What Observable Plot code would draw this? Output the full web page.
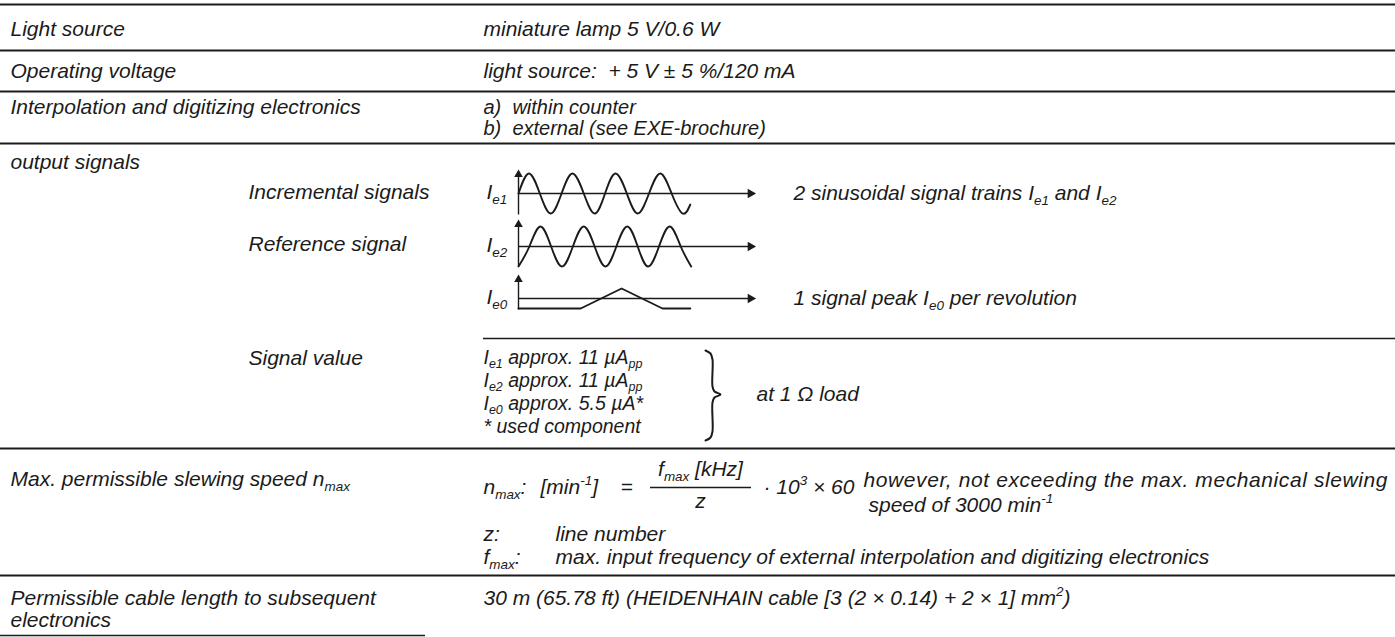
<!DOCTYPE html>
<html><head><meta charset="utf-8">
<script src="https://cdn.jsdelivr.net/npm/d3@7"></script>
<script src="https://cdn.jsdelivr.net/npm/@observablehq/plot@0.6"></script>
<style>
html,body{margin:0;padding:0;background:#fff;}
#chart{width:1395px;height:637px;overflow:hidden;}
</style></head><body><div id="chart"></div>
<script>
// ---------------- DATA (text and values) ----------------
const specNames = ["Light source", "Operating voltage", "Interpolation and digitizing electronics",
  "output signals", "Max. permissible slewing speed n_{max}", "Permissible cable length to subsequent", "electronics"];
const lampSpec = "miniature lamp 5 V/0.6 W";
const voltageSpec = "light source:  + 5 V ± 5 %/120 mA";
const electronicsOptions = ["a)  within counter", "b)  external (see EXE-brochure)"];
const signalTypes = ["Incremental signals", "Reference signal", "Signal value"];
const signalNames = ["I_{e1}", "I_{e2}", "I_{e0}"];
const signalNotes = ["2 sinusoidal signal trains I_{e1} and I_{e2}", "1 signal peak I_{e0} per revolution"];
const signalValues = ["I_{e1} approx. 11 µA_{pp}", "I_{e2} approx. 11 µA_{pp}", "I_{e0} approx. 5.5 µA*", "* used component"];
const loadNote = "at 1 Ω load";
const formulaParts = ["n_{max}:", "[min^{-1}]", "=", "f_{max} [kHz]", "z", "· 10^{3} × 60"];
const speedNote = ["however, not exceeding the max. mechanical slewing", "speed of 3000 min^{-1}"];
const legendKeys = ["z:", "f_{max}:"];
const legendTexts = ["line number", "max. input frequency of external interpolation and digitizing electronics"];
const cableSpec = "30 m (65.78 ft) (HEIDENHAIN cable [3 (2 × 0.14) + 2 × 1] mm^{2})";

// signal traces: phase (in signal periods) and level (-1 … 1)
const ie1Phase = [0, 0.24, 0.49, 0.74, 0.99, 1.24, 1.5, 1.75, 1.99, 2.23, 2.49, 2.74, 3.0, 3.26, 3.52, 3.77, 3.95];
const ie1Level = [0, 1, 0, -1, 0, 1, 0, -1, 0, 1, 0, -1, 0, 1, 0, -1, -0.55];
const ie2Phase = [0, 0.25, 0.5, 0.75, 1.0, 1.25, 1.5, 1.75, 2.0, 2.25, 2.5, 2.74, 2.98, 3.23, 3.48, 3.73, 3.97];
const ie2Level = [-1, 0, 1, 0, -1, 0, 1, 0, -1, 0, 1, 0, -1, 0, 1, 0, -1];
const ie0Phase = [0, 1.43, 2.37, 3.31, 3.95];
const ie0Level = [-1, -1, 1, -1, -1];

// ---------------- LAYOUT (pixels) ----------------
const W = 1395, H = 637;
const FS = 21, FS_SMALL = 19.5;
const col = {left: 10, sub: 248, right: 483, note: 793, legend: 555};
const fullRules = [4, 50, 91, 143, 448, 575];
const diag = {x0: 518, period: 43.5, xEnd: 754,
  rows: [{axis: 193, amp: 20, top: 171, bottom: 214},
         {axis: 246, amp: 20, top: 221, bottom: 266},
         {axis: 298, amp: 10, top: 276, bottom: 309}]};

const T = []; // text items
const add = (text, x, y, anchor = "start", size = FS, fit = null) => T.push({text, x, y, anchor, size, fit});
add(specNames[0], col.left, 29);
add(lampSpec, col.right, 29);
add(specNames[1], col.left, 71);
add(voltageSpec, col.right, 71);
add(specNames[2], col.left, 107);
electronicsOptions.forEach((s, i) => add(s, col.right, 107 + i * 21.5, "start", FS_SMALL + 0.5));
add(specNames[3], col.left, 162);
add(signalTypes[0], col.sub, 192);
add(signalTypes[1], col.sub, 244);
signalNames.forEach((s, i) => add(s, col.right + 3, diag.rows[i].axis - 1));
add(signalNotes[0], col.note, 193);
add(signalNotes[1], col.note, 298);
add(signalTypes[2], col.sub, 358);
signalValues.forEach((s, i) => add(s, col.right, 357 + i * 23, "start", FS_SMALL));
add(loadNote, 756, 394);
add(specNames[4], col.left, 479);
add(formulaParts[0], col.right, 487);
add(formulaParts[1], 540, 487);
add(formulaParts[2], 620, 487);
add(formulaParts[3], 700, 469, "middle");
add(formulaParts[4], 700, 501, "middle");
add(formulaParts[5], 763, 487);
add(speedNote[0], 863, 480, "start", FS, 524);
add(speedNote[1], 868, 505);
legendKeys.forEach((s, i) => add(s, col.right, 534 + i * 23));
legendTexts.forEach((s, i) => add(s, col.legend, 534 + i * 23));
add(specNames[5], col.left, 598);
add(specNames[6], col.left, 620);
add(cableSpec, col.right, 598);

// trace points in pixel space
const trace = (phase, level, r) => phase.map((p, i) => ({x: diag.x0 + p * diag.period, y: r.axis - level[i] * r.amp}));
const traces = [trace(ie1Phase, ie1Level, diag.rows[0]), trace(ie2Phase, ie2Level, diag.rows[1]), trace(ie0Phase, ie0Level, diag.rows[2])];

const brace = [[705,350],[710,353],[712,359],[712,386],[714,391],[720,394],[714,397],[712,402],[712,431],[710,437],[705,440]]
  .map(([x, y]) => ({x, y}));

const ink = "#1b1b1b";
const font = "Liberation Sans, Arial, Helvetica, sans-serif";
const textMark = (anchor) => Plot.text(T.filter(d => d.anchor === anchor), {x: "x", y: "y", text: "text",
  textAnchor: anchor, lineAnchor: "middle", fontSize: "size", fontStyle: "italic", fontFamily: font, fill: ink});

const plot = Plot.plot({
  width: W, height: H, margin: 0,
  x: {domain: [0, W], range: [0, W], axis: null},
  y: {domain: [0, H], range: [0, H], axis: null},
  style: {background: "#fff"},
  marks: [
    Plot.ruleY(fullRules, {x1: 0, x2: W, y: d => d, stroke: ink, strokeWidth: 2}),
    Plot.ruleY([338], {x1: col.right, x2: W, y: d => d, stroke: ink, strokeWidth: 1.6}),
    Plot.ruleY([635], {x1: 0, x2: 425, y: d => d, stroke: ink, strokeWidth: 1.6}),
    Plot.ruleY([487], {x1: 650, x2: 751, y: d => d, stroke: ink, strokeWidth: 1.3}),
    // diagram axes
    Plot.link(diag.rows, {x1: diag.x0, x2: diag.x0, y1: d => d.bottom, y2: d => d.top + 4, stroke: ink, strokeWidth: 1.4}),
    Plot.link(diag.rows, {x1: diag.x0, x2: diag.xEnd - 6, y1: d => d.axis, y2: d => d.axis, stroke: ink, strokeWidth: 1.4}),
    Plot.dot(diag.rows, {x: diag.x0, y: d => d.top + 3, symbol: "triangle", r: 3.2, fill: ink, stroke: "none"}),
    Plot.dot(diag.rows, {x: diag.xEnd - 4, y: d => d.axis, symbol: "triangle", r: 3.6, fill: ink, stroke: "none", rotate: 90}),
    // signal traces
    Plot.line(traces[0], {x: "x", y: "y", curve: "natural", stroke: ink, strokeWidth: 1.9}),
    Plot.line(traces[1], {x: "x", y: "y", curve: "natural", stroke: ink, strokeWidth: 1.9}),
    Plot.line(traces[2], {x: "x", y: "y", curve: "linear", stroke: ink, strokeWidth: 1.9}),
    // brace
    Plot.line(brace, {x: "x", y: "y", curve: "catmull-rom", stroke: ink, strokeWidth: 2}),
    // texts
    textMark("start"),
    textMark("middle")
  ]
});

// turn _{..} and ^{..} into real sub/superscript tspans; stretch justified lines
function richText(svg) {
  svg.querySelectorAll("text").forEach(t => {
    const s0 = t.textContent;
    const item = T.find(d => d.text === s0 && d.fit);
    if (item) { t.setAttribute("textLength", item.fit); t.setAttribute("lengthAdjust", "spacing"); }
    const nodes = t.querySelectorAll("tspan").length ? [...t.querySelectorAll("tspan")] : [t];
    nodes.forEach(n => {
      const s = n.textContent;
      if (!/[_^]\{/.test(s)) return;
      n.textContent = "";
      const re = /([_^])\{([^}]*)\}/g; let last = 0, m;
      const put = (txt, kind) => {
        const sp = document.createElementNS("http://www.w3.org/2000/svg", "tspan");
        sp.textContent = txt;
        if (kind) {
          sp.setAttribute("font-size", "0.64em");
          sp.setAttribute("baseline-shift", kind === "_" ? "-0.35em" : "0.65em");
        }
        n.appendChild(sp);
      };
      while ((m = re.exec(s))) { if (m.index > last) put(s.slice(last, m.index)); put(m[2], m[1]); last = re.lastIndex; }
      if (last < s.length) put(s.slice(last));
    });
  });
}
richText(plot);
document.getElementById("chart").appendChild(plot);
</script></body></html>
